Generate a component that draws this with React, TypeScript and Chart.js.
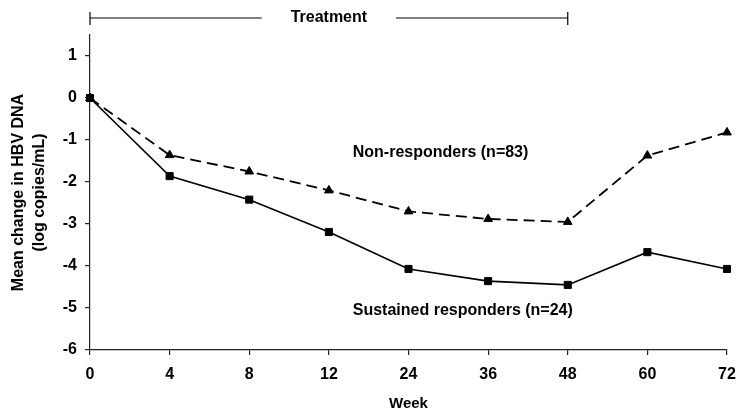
import React, { useEffect, useRef } from "react";
import { Chart, registerables } from "chart.js";

Chart.register(...registerables);

const weeks = ["0", "4", "8", "12", "24", "36", "48", "60", "72"];
const sustainedResponders = [0, -1.86, -2.42, -3.19, -4.07, -4.36, -4.45, -3.67, -4.07];
const nonResponders = [0, -1.36, -1.75, -2.2, -2.7, -2.88, -2.95, -1.37, -0.82];
const yTicks = [-6, -5, -4, -3, -2, -1, 0, 1];

const seriesLabels = ["Sustained responders (n=24)", "Non-responders (n=83)"];
// annotation anchors in data units: [category index, y value]
const labelAnchors: [number, number][] = [
  [3.3, -5.05],
  [3.3, -1.29],
];
const treatmentLabel = "Treatment";
const treatmentRange: [number, number] = [0, 6];

const FONT = "'Liberation Sans', Arial, sans-serif";

const overlayPlugin = {
  id: "overlay",
  afterDraw(chart: any) {
    const { ctx, chartArea, scales } = chart;
    const x = scales.x;
    const y = scales.y;
    ctx.save();
    ctx.fillStyle = "#000";
    ctx.font = `bold 16px ${FONT}`;
    ctx.textBaseline = "middle";
    ctx.textAlign = "left";
    labelAnchors.forEach((a, i) => {
      ctx.fillText(seriesLabels[i], x.getPixelForValue(a[0]), y.getPixelForValue(a[1]));
    });

    // Treatment bracket
    const x0 = x.getPixelForValue(treatmentRange[0]);
    const x1 = x.getPixelForValue(treatmentRange[1]);
    const xc = x.getPixelForValue((treatmentRange[0] + treatmentRange[1]) / 2);
    const by = chartArea.top - 17;
    const tw = ctx.measureText(treatmentLabel).width;
    const gap = 29;
    ctx.strokeStyle = "#000";
    ctx.lineWidth = 1.2;
    ctx.beginPath();
    ctx.moveTo(x0, by);
    ctx.lineTo(xc - tw / 2 - gap, by);
    ctx.moveTo(xc + tw / 2 + gap, by);
    ctx.lineTo(x1, by);
    ctx.moveTo(x0, by - 6);
    ctx.lineTo(x0, by + 7);
    ctx.moveTo(x1, by - 6);
    ctx.lineTo(x1, by + 7);
    ctx.stroke();
    ctx.textAlign = "center";
    ctx.fillText(treatmentLabel, xc, by);
    ctx.restore();
  },
};

export default function App() {
  const ref = useRef<HTMLCanvasElement | null>(null);
  useEffect(() => {
    if (!ref.current) return;
    Chart.defaults.font.family = FONT;
    const chart = new Chart(ref.current, {
      type: "line",
      data: {
        labels: weeks,
        datasets: [
          {
            label: seriesLabels[0],
            data: sustainedResponders,
            borderColor: "#000",
            backgroundColor: "#000",
            borderWidth: 1.6,
            pointStyle: "rect",
            pointRadius: 5,
            pointBorderWidth: 1,
            tension: 0,
          },
          {
            label: seriesLabels[1],
            data: nonResponders,
            borderColor: "#000",
            backgroundColor: "#000",
            borderWidth: 1.8,
            borderDash: [11, 6],
            pointStyle: "triangle",
            pointRadius: 5,
            pointBorderWidth: 1,
            tension: 0,
          },
        ],
      },
      options: {
        animation: false,
        responsive: false,
        layout: { padding: { top: 35, right: 10, left: 0, bottom: 0 } },
        plugins: { legend: { display: false }, tooltip: { enabled: false } },
        scales: {
          x: {
            type: "category",
            offset: false,
            grid: { display: true, drawOnChartArea: false, drawTicks: true, tickLength: 5, color: "#222", lineWidth: 1.2 },
            border: { display: true, color: "#222", width: 1.2 },
            ticks: { color: "#000", font: { size: 16, weight: "bold" }, padding: 10, maxRotation: 0, autoSkip: false },
            title: { display: true, text: "Week", color: "#000", font: { size: 15, weight: "bold", lineHeight: 1 }, padding: { top: 0, bottom: 0 } },
            afterFit: (s: any) => { s.height = 61; s.paddingRight = 0; s.paddingLeft = 0; },
          },
          y: {
            min: -6,
            max: 1.5,
            grid: { display: true, drawOnChartArea: false, drawTicks: true, tickLength: 5, color: "#222", lineWidth: 1.2 },
            border: { display: true, color: "#222", width: 1.2 },
            afterBuildTicks: (s: any) => { s.ticks = yTicks.map((v) => ({ value: v })); },
            ticks: { color: "#000", font: { size: 16, weight: "bold" }, padding: 8, stepSize: 1 },
            title: {
              display: true,
              text: ["Mean change in HBV DNA", "(log copies/mL)"],
              color: "#000",
              font: { size: 16, weight: "bold", lineHeight: 1.3 },
              padding: { top: 8, bottom: 0 },
            },
            afterFit: (s: any) => { s.width = 90; s.paddingTop = 0; s.paddingBottom = 0; },
          },
        },
      },
      plugins: [overlayPlugin],
    });
    return () => chart.destroy();
  }, []);
  return (
    <div style={{ position: "absolute", left: 0, top: 0, width: 737, height: 411, background: "#fff" }}>
      <canvas ref={ref} width={737} height={411} style={{ display: "block" }} />
    </div>
  );
}
